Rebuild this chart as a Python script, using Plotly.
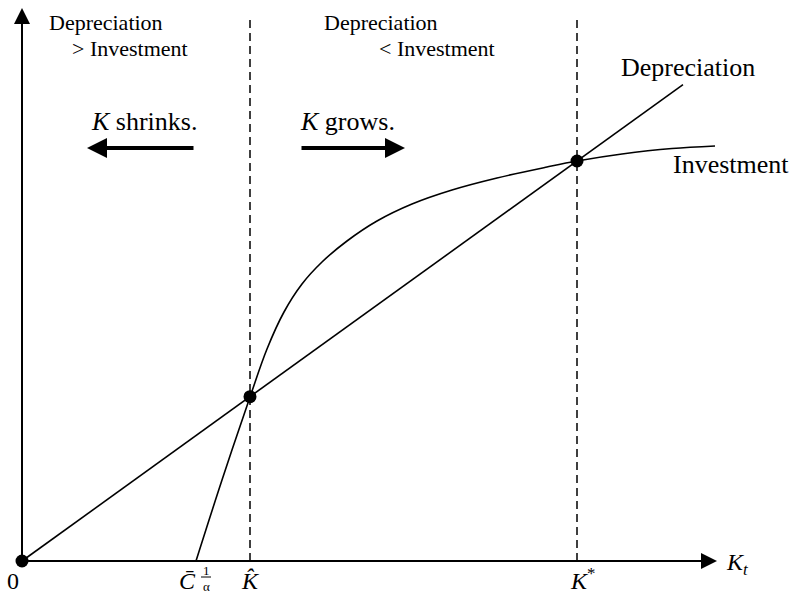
import plotly.graph_objects as go

# Capital stock K_t on the horizontal axis, flows on the vertical axis
C_bar_root = 174          # K where investment becomes positive (C̄^(1/α))
K_hat = 228               # unstable steady state
K_star = 555              # stable steady state
delta = 400 / 555         # depreciation rate (slope of the depreciation line)

investment_k = [174, 200, 228, 245, 262, 280, 300, 325, 355, 390, 430, 475,
                525, 555, 600, 650, 693]
investment_v = [0, 81, 164, 212, 249, 277, 299, 320, 340, 357, 371, 383,
                394, 400, 407, 412.5, 415]

depreciation_k = [0, 661]
depreciation_v = [k * delta for k in depreciation_k]

steady_k = [0, K_hat, K_star]
steady_v = [k * delta for k in steady_k]

FONT = "Liberation Serif"
BLACK = "black"

fig = go.Figure()

# Dashed verticals at the two interior steady states
for k in (K_hat, K_star):
    fig.add_trace(go.Scatter(x=[k, k], y=[0, 546], mode="lines",
                             line=dict(color=BLACK, width=1.5, dash="8px,5px"),
                             hoverinfo="skip", showlegend=False))

fig.add_trace(go.Scatter(x=depreciation_k, y=depreciation_v, mode="lines",
                         line=dict(color=BLACK, width=1.6), showlegend=False))
fig.add_trace(go.Scatter(x=investment_k, y=investment_v, mode="lines",
                         line=dict(color=BLACK, width=1.6, shape="spline", smoothing=1.0),
                         showlegend=False))
fig.add_trace(go.Scatter(x=steady_k, y=steady_v, mode="markers",
                         marker=dict(color=BLACK, size=13), showlegend=False))

def arrow(x0, y0, x1, y1, width, size):
    fig.add_annotation(x=x1, y=y1, ax=x0, ay=y0, xref="x", yref="y",
                       axref="x", ayref="y", text="", showarrow=True,
                       arrowhead=2, arrowsize=size, arrowwidth=width,
                       arrowcolor=BLACK)

# Axes
arrow(0, 0, 0, 553, 2, 1.6)
arrow(0, 0, 695, 0, 2, 1.6)
# Direction arrows
arrow(173, 413, 65, 413, 4, 1.0)
arrow(278, 413, 383, 413, 4, 1.0)

def label(x, y, text, size, xanchor="center"):
    fig.add_annotation(x=x, y=y, xref="x", yref="y", text=text, showarrow=False,
                       xanchor=xanchor, yanchor="middle",
                       font=dict(family=FONT, size=size, color=BLACK))

label(84, 539, "Depreciation", 22)
label(108, 513, "&gt; Investment", 22)
label(359, 539, "Depreciation", 22)
label(415, 513, "&lt; Investment", 22)
label(122, 440, "<i>K</i> shrinks.", 26)
label(325, 440, "<i>K</i> grows.", 26)
label(666, 494, "Depreciation", 26)
label(709, 397, "Investment", 26)

label(-9, -20, "0", 24)
label(165, -20, "<i>C\u0304</i>", 24)
label(184, -9, "1", 13)
label(184, -25, "α", 13)
fig.add_shape(type="line", x0=179, x1=189, y0=-16, y1=-16, xref="x", yref="y",
              line=dict(color=BLACK, width=1))
label(K_hat, -20, "<i>K\u0302</i>", 24)
label(K_star + 5, -18, "<i>K</i><sup>*</sup>", 24)
label(715, -3, "<i>K</i><sub><i>t</i></sub>", 24, xanchor="center")

fig.update_layout(
    width=793, height=598,
    margin=dict(l=0, r=0, t=0, b=0),
    paper_bgcolor="white", plot_bgcolor="white",
    xaxis=dict(range=[-22, 771], visible=False, fixedrange=True),
    yaxis=dict(range=[-37, 561], visible=False, fixedrange=True),
    showlegend=False,
)

fig.write_html("out.html")
